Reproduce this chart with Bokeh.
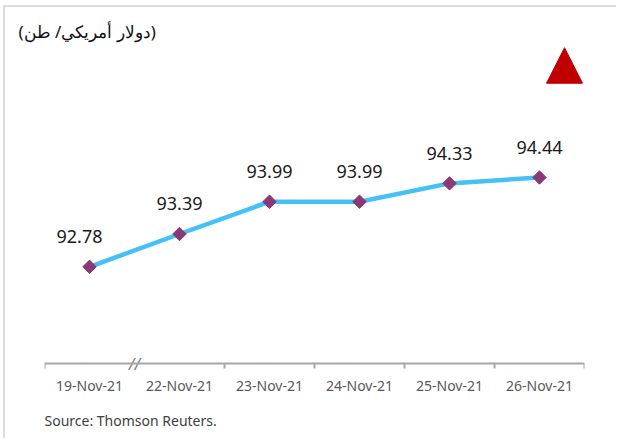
import math
from bokeh.plotting import figure
from bokeh.models import (ColumnDataSource, LabelSet, Range1d, LinearAxis,
                          FixedTicker, Span, Title)
from bokeh.core.properties import value
from bokeh.embed import file_html
from bokeh.resources import INLINE

# ---- data ----
dates = ["19-Nov-21", "22-Nov-21", "23-Nov-21", "24-Nov-21", "25-Nov-21", "26-Nov-21"]
prices = [92.78, 93.39, 93.99, 93.99, 94.33, 94.44]
unit_text = "\u202b(دولار أمريكي/ طن)\u202c"
source_text = "Source: Thomson Reuters."
break_after = 1  # axis break between first and second date

FONT = "Noto Sans"
Y0, Y1 = 90.836, 96.891
PXU = 1 / 54.0          # data units per pixel (vertical)
AX = Y0 + 8 * PXU       # axis line value

xs = [i + 0.5 for i in range(len(dates))]
lab_dx = [-10] + [0] * (len(dates) - 1)
src = ColumnDataSource(dict(x=xs, y=prices, lab=[f"{v:.2f}" for v in prices], dx=lab_dx))

p = figure(width=613, height=433, output_backend="svg", toolbar_location=None,
           x_range=Range1d(0, len(dates)), y_range=Range1d(Y0, Y1),
           x_axis_location=None, y_axis_location=None,
           min_border_left=39, min_border_right=34, min_border_top=38, min_border_bottom=68)
p.grid.visible = False
p.outline_line_color = None
p.background_fill_color = "white"
p.border_fill_color = "white"
p.styles = {"margin-left": "3px", "margin-top": "5px",
            "border-left": "2px solid #dcdcdc", "border-top": "2px solid #dcdcdc"}

# axis line, boundary ticks, break mark (drawn inside the frame)
p.add_layout(Span(location=AX, dimension="width", line_color="#a6a6a6", line_width=2))
bounds = [b for b in range(len(dates) + 1) if b != break_after]
p.segment(x0=bounds, y0=[AX] * len(bounds), x1=bounds, y1=[AX - 5 * PXU] * len(bounds),
          line_color="#a6a6a6", line_width=2)
p.text(x=[break_after], y=[AX], text=["//"], text_align="center", text_baseline="middle",
       text_font=value(FONT), text_font_size="16px", text_font_style="italic",
       text_color="#808080")

# label axis (centers)
label_axis = LinearAxis(ticker=FixedTicker(ticks=xs, minor_ticks=[]),
                        major_label_overrides={x: d for x, d in zip(xs, dates)},
                        axis_line_color=None, major_tick_line_color=None,
                        minor_tick_line_color=None, major_tick_out=0, major_tick_in=0,
                        major_label_standoff=4,
                        major_label_text_font=FONT, major_label_text_font_size="14px",
                        major_label_text_color="#595959")
p.add_layout(label_axis, "below")

# series
p.line("x", "y", source=src, line_color="#45C1F7", line_width=4.5)
p.scatter("x", "y", source=src, marker="square", angle=math.pi / 4, size=9.5,
          fill_color="#893A76", line_color="#893A76")

p.add_layout(LabelSet(x="x", y="y", text="lab", source=src, x_offset="dx", y_offset=30,
                      text_align="center", text_baseline="middle", text_font=value(FONT),
                      text_font_size="18px", text_color="#1a1a1a"))

# unit label and source
p.add_layout(Title(text=unit_text, align="left", offset=-26, text_font=FONT,
                   text_font_size="17px", text_font_style="normal", text_color="#111111",
                   standoff=5), "above")
p.add_layout(Title(text=source_text, align="left", offset=0, text_font=FONT,
                   text_font_size="14px", text_font_style="normal", text_color="#404040",
                   standoff=22), "below")

# up indicator triangle
p.patch(x=[5.578, 5.778, 5.978], y=[96.19, 96.85, 96.19], fill_color="#C00000",
        line_color="#C00000")

open("out.html", "w").write(file_html(p, INLINE))
